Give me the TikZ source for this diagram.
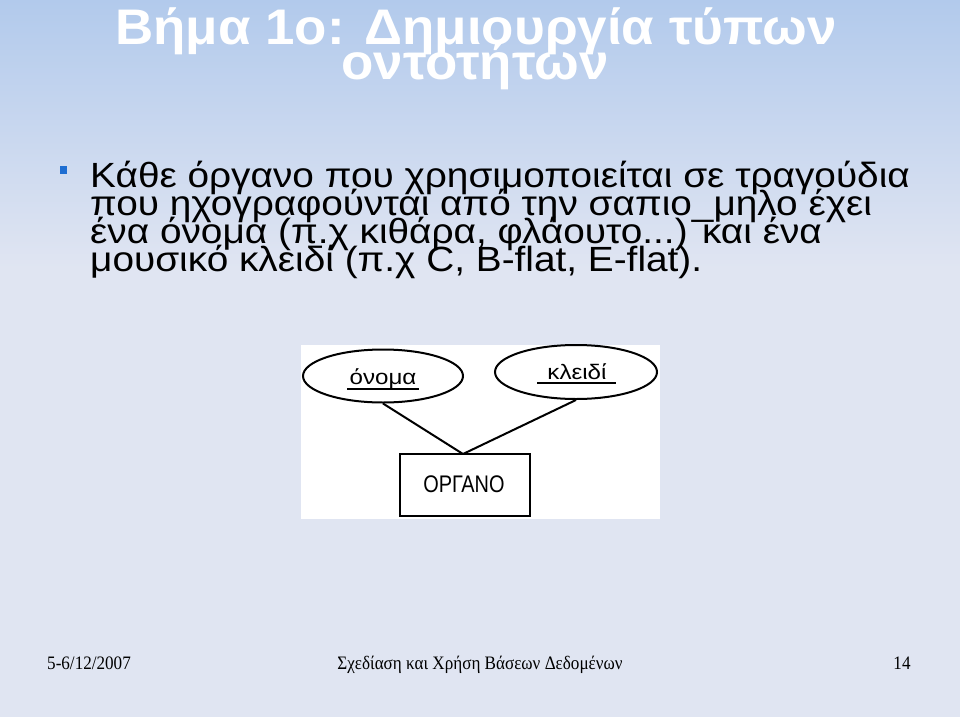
\documentclass[tikz,border=0pt]{standalone}
\usepackage{fontspec}
\setmainfont{Liberation Sans}
\newfontfamily\titlefont{Liberation Sans}[FakeStretch=1.058]
\newfontfamily\bodyfont{Liberation Sans}[FakeStretch=1.108]
\newfontfamily\attrfont{Liberation Sans}[FakeStretch=1.15]
\newfontfamily\entfont{Liberation Sans}[FakeStretch=0.83]
\newfontfamily\footfont{Liberation Serif}[FakeStretch=0.9]
\usetikzlibrary{shapes.geometric}
\definecolor{bgtop}{RGB}{178,202,236}
\definecolor{bgbot}{RGB}{224,229,242}
\definecolor{bulletblue}{RGB}{30,110,210}
\tikzset{
  title/.style={text=white,font=\titlefont\fontsize{50}{40}\selectfont\bfseries,anchor=base,inner sep=0pt},
  body/.style={text=black,font=\bodyfont\fontsize{35}{28}\selectfont,anchor=base west,inner sep=0pt},
  foot/.style={text=black,font=\footfont\fontsize{19}{20}\selectfont,anchor=base,inner sep=0pt},
  attr/.style={ellipse,draw=black,line width=2pt,fill=white,inner sep=0pt},
  entity/.style={rectangle,draw=black,line width=2pt,fill=white,inner sep=0pt},
  attrlbl/.style={font=\attrfont\fontsize{21}{22}\selectfont,inner sep=0pt,anchor=base},
  entlbl/.style={font=\entfont\fontsize{24}{25}\selectfont,inner sep=0pt,anchor=base},
  link/.style={draw=black,line width=2pt},
  uline/.style={draw=black,line width=1.5pt},
}
\begin{document}
\begin{tikzpicture}[x=1pt,y=-1pt]
\useasboundingbox (0,0) rectangle (960,717);
\fill[bgbot] (0,0) rectangle (960,717);
\shade[top color=bgtop,bottom color=bgbot] (0,0) rectangle (960,268);
% title
\node[title] (t1) at (476,45) {Βήμα 1ο: Δημιουργία τύπων};
\node[title] (t2) at (475,79.5) {οντοτήτων};
% bullet
\fill[bulletblue] (60,166) rectangle (67,174);
\node[body] (b1) at (90,187) {Κάθε όργανο που χρησιμοποιείται σε τραγούδια};
\node[body] (b2) at (90,215) {που ηχογραφούνται από την σαπιο\_μηλο έχει};
\node[body] (b3) at (90,243) {ένα όνομα (π.χ κιθάρα, φλάουτο...) και ένα};
\node[body] (b4) at (90,271) {μουσικό κλειδί (π.χ C, B-flat, E-flat).};
% diagram
\fill[white] (301,345) rectangle (660,519);
\node[attr,minimum width=160pt,minimum height=53pt] (a1) at (383,376) {};
\node[attr,minimum width=162pt,minimum height=54pt] (a2) at (576,372) {};
\node[entity,minimum width=130pt,minimum height=62pt] (e) at (465,485) {};
\coordinate (j) at (463,454);
\draw[link] (a1.south) -- (j);
\draw[link] (a2.south) -- (j);
\node[attrlbl] (l1) at (383,384) {όνομα};
\draw[uline] (347,389) -- (419,389);
\node[attrlbl] (l2) at (577,379) {κλειδί};
\draw[uline] (537,383) -- (616,383);
\node[entlbl] (l3) at (464,492) {ΟΡΓΑΝΟ};
% footer
\node[foot] (f1) at (89,669) {5-6/12/2007};
\node[foot] (f2) at (480,669) {Σχεδίαση και Χρήση Βάσεων Δεδομένων};
\node[foot] (f3) at (902,669) {14};
\end{tikzpicture}
\end{document}
